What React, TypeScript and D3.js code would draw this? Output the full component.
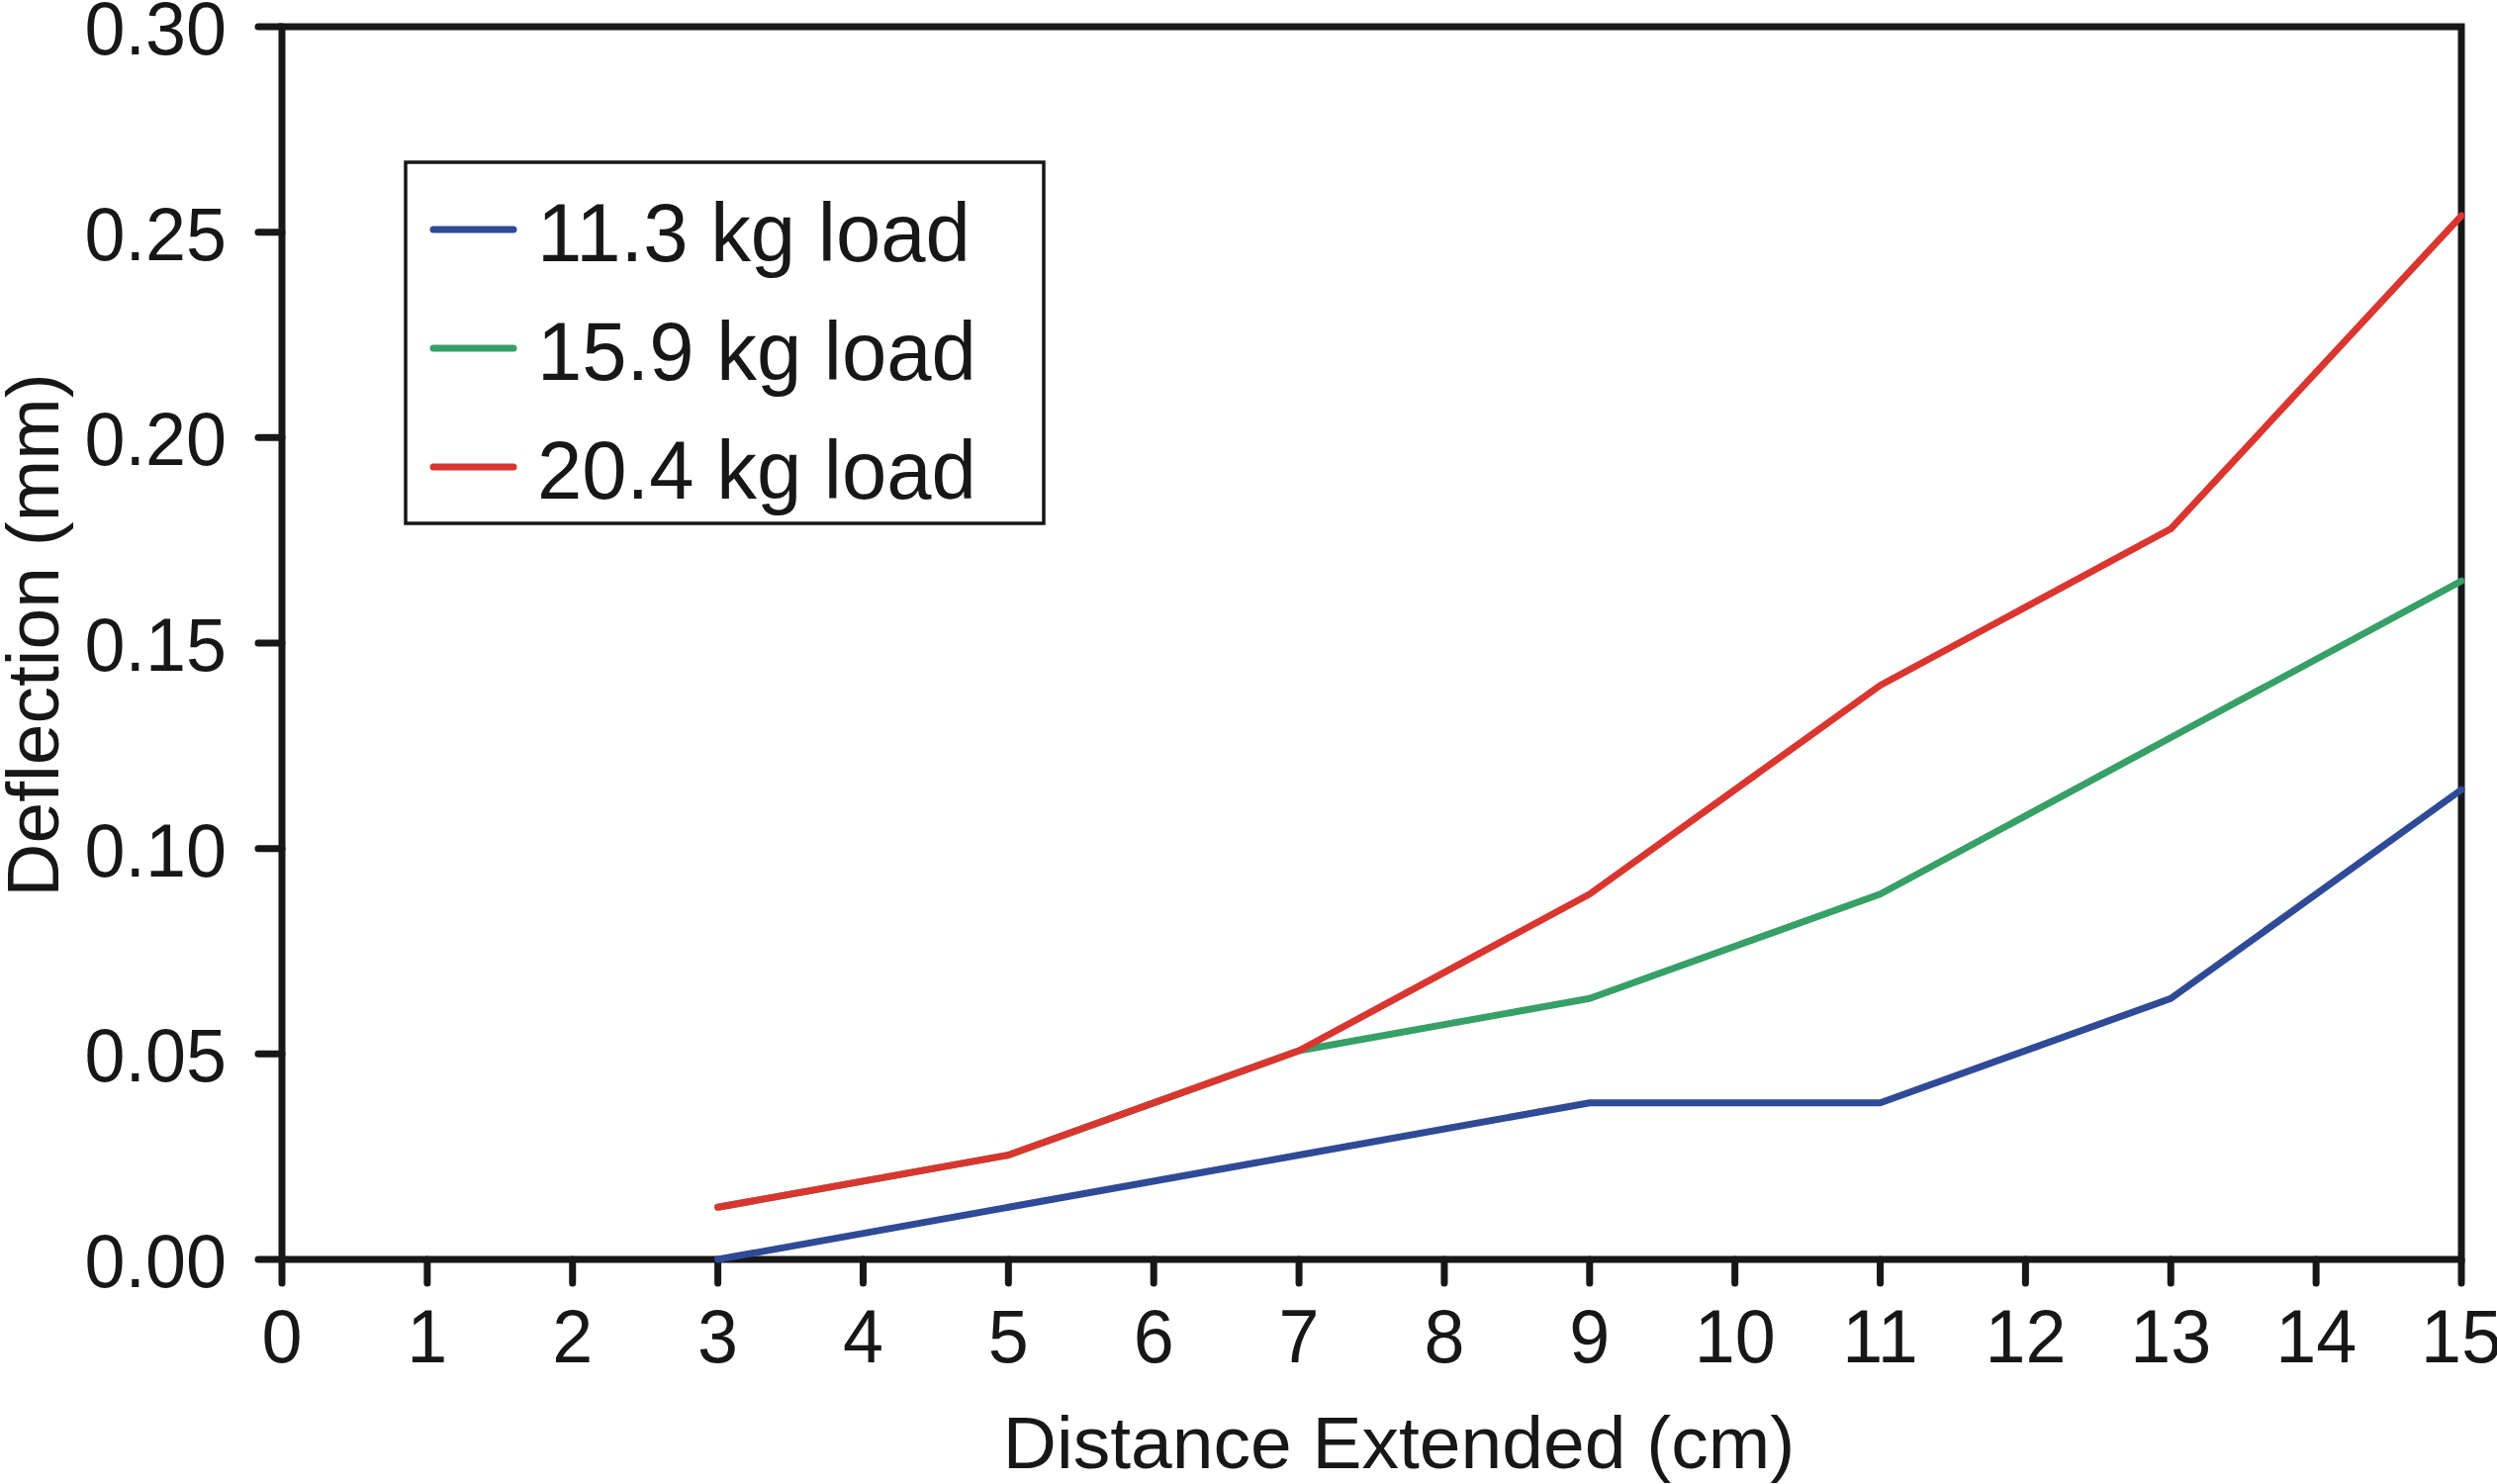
import React from "react";
import * as d3 from "d3";

const distances = [3, 5, 7, 9, 11, 13, 15];
const load113 = [0, 0.0127, 0.0254, 0.0381, 0.0381, 0.0635, 0.1143];
const load159 = [0.0127, 0.0254, 0.0508, 0.0635, 0.0889, 0.127, 0.1651];
const load204 = [0.0127, 0.0254, 0.0508, 0.0889, 0.1397, 0.1778, 0.254];
const seriesNames = ["11.3 kg load", "15.9 kg load", "20.4 kg load"];
const seriesColors = ["#2f4a96", "#36a067", "#da3630"];
const xTicks = d3.range(0, 16, 1);
const yTicks = [0, 0.05, 0.1, 0.15, 0.2, 0.25, 0.3];

const W = 2524;
const H = 1500;
const FONT = "'Liberation Sans', Arial, Helvetica, sans-serif";
const INK = "#171717";

export default function App() {
  const x = d3.scaleLinear().domain([0, 15]).range([285, 2488]);
  const y = d3.scaleLinear().domain([0, 0.3]).range([1273, 27]);
  const series = [load113, load159, load204];
  const line = d3
    .line<number>()
    .x((_, i) => x(distances[i]))
    .y((d) => y(d));

  const tickLen = 24;
  const legendX = 410;
  const legendY = 164;
  const legendRows = [232, 352, 472];

  return (
    <div style={{ position: "fixed", left: 0, top: 0, width: W, height: H, background: "#fff" }}>
      <svg width={W} height={H} viewBox={`0 0 ${W} ${H}`} style={{ display: "block" }}>
        <rect x={0} y={0} width={W} height={H} fill="#fff" />
        {/* ticks */}
        {xTicks.map((t) => (
          <line
            key={"xt" + t}
            x1={x(t)}
            x2={x(t)}
            y1={y(0)}
            y2={y(0) + tickLen}
            stroke={INK}
            strokeWidth={7}
            strokeLinecap="round"
          />
        ))}
        {yTicks.map((t) => (
          <line
            key={"yt" + t}
            x1={x(0)}
            x2={x(0) - tickLen}
            y1={y(t)}
            y2={y(t)}
            stroke={INK}
            strokeWidth={7}
            strokeLinecap="round"
          />
        ))}
        {/* frame */}
        <rect
          x={x(0)}
          y={y(0.3)}
          width={x(15) - x(0)}
          height={y(0) - y(0.3)}
          fill="none"
          stroke={INK}
          strokeWidth={7}
        />
        {/* tick labels */}
        {xTicks.map((t) => (
          <text
            key={"xl" + t}
            transform={`translate(${x(t)},1377) scale(0.97,1)`}
            textAnchor="middle"
            fontFamily={FONT}
            fontSize={76}
            fill={INK}
          >
            {t}
          </text>
        ))}
        {yTicks.map((t) => (
          <text
            key={"yl" + t}
            transform={`translate(229,${y(t) + 28}) scale(0.97,1)`}
            textAnchor="end"
            fontFamily={FONT}
            fontSize={76}
            fill={INK}
          >
            {d3.format(".2f")(t)}
          </text>
        ))}
        {/* axis titles */}
        <text x={1414} y={1484} textAnchor="middle" fontFamily={FONT} fontSize={75} fill={INK}>
          Distance Extended (cm)
        </text>
        <text
          transform="translate(59,642) rotate(-90)"
          textAnchor="middle"
          fontFamily={FONT}
          fontSize={75}
          fill={INK}
        >
          Deflection (mm)
        </text>
        {/* series */}
        {series.map((s, i) => (
          <path
            key={"s" + i}
            d={line(s) || ""}
            fill="none"
            stroke={seriesColors[i]}
            strokeWidth={7}
            strokeLinecap="round"
            strokeLinejoin="round"
          />
        ))}
        {/* legend */}
        <rect
          x={legendX}
          y={legendY}
          width={645}
          height={365}
          fill="#fff"
          stroke={INK}
          strokeWidth={3.5}
        />
        {seriesNames.map((name, i) => (
          <g key={"lg" + i}>
            <line
              x1={438}
              x2={519}
              y1={legendRows[i]}
              y2={legendRows[i]}
              stroke={seriesColors[i]}
              strokeWidth={7}
              strokeLinecap="round"
            />
            <text
              transform={`translate(543,${legendRows[i] + 32}) scale(0.97,1)`}
              fontFamily={FONT}
              fontSize={84}
              fill={INK}
            >
              {name}
            </text>
          </g>
        ))}
      </svg>
    </div>
  );
}
